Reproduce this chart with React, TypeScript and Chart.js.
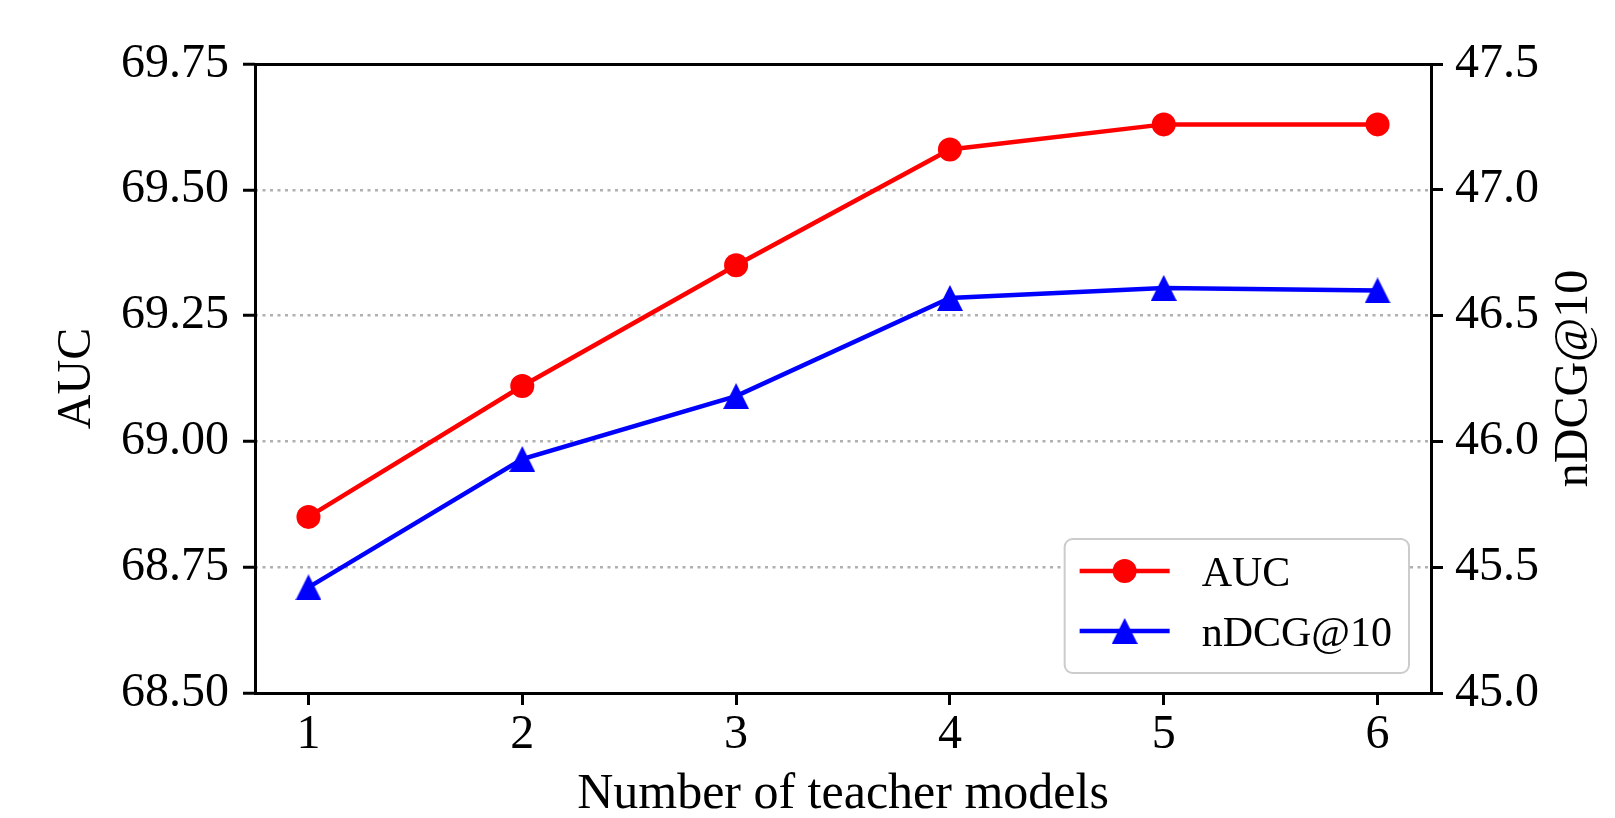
import React, { useEffect, useRef } from 'react';
import { Chart, registerables } from 'chart.js';

Chart.register(...registerables);

const teacherCounts = [1, 2, 3, 4, 5, 6];
const aucValues = [68.85, 69.11, 69.35, 69.58, 69.63, 69.63];
const ndcgValues = [45.42, 45.93, 46.18, 46.57, 46.61, 46.6];
const xTicks = [1, 2, 3, 4, 5, 6];
const aucTicks = [68.5, 68.75, 69.0, 69.25, 69.5, 69.75];
const ndcgTicks = [45.0, 45.5, 46.0, 46.5, 47.0, 47.5];
const seriesNames = ['AUC', 'nDCG@10'];
const xTitle = 'Number of teacher models';
const leftTitle = 'AUC';
const rightTitle = 'nDCG@10';

const FONT = "'Liberation Serif', 'Times New Roman', serif";

export default function App() {
  const ref = useRef<HTMLCanvasElement>(null);

  useEffect(() => {
    const canvas = ref.current;
    if (!canvas) return;

    const tri = document.createElement('canvas');
    tri.width = 26;
    tri.height = 26;
    const tctx = tri.getContext('2d')!;
    tctx.fillStyle = '#0000ff';
    tctx.beginPath();
    tctx.moveTo(13, 0);
    tctx.lineTo(26, 26);
    tctx.lineTo(0, 26);
    tctx.closePath();
    tctx.fill();

    const framePlugin = {
      id: 'frame',
      afterDraw(chart: any) {
        const { ctx, chartArea: a } = chart;
        ctx.save();
        ctx.strokeStyle = '#000';
        ctx.lineWidth = 3;
        ctx.strokeRect(a.left + 0.5, a.top + 0.5, a.right - a.left, a.bottom - a.top);
        ctx.restore();
      },
    };

    const rightTitlePlugin = {
      id: 'rightTitle',
      afterDraw(chart: any) {
        const { ctx, chartArea: a } = chart;
        ctx.save();
        ctx.fillStyle = '#000';
        ctx.font = `48px ${FONT}`;
        ctx.textAlign = 'center';
        ctx.textBaseline = 'middle';
        ctx.translate(a.right + 143, (a.top + a.bottom) / 2);
        ctx.rotate(-Math.PI / 2);
        ctx.fillText(rightTitle, 0, 0);
        ctx.restore();
      },
    };

    const legendPlugin = {
      id: 'mplLegend',
      afterDraw(chart: any) {
        const { ctx, chartArea: a } = chart;
        ctx.save();
        ctx.font = `42px ${FONT}`;
        const textW = Math.max(...seriesNames.map((n) => ctx.measureText(n).width));
        const w = 15 + 90 + 32 + textW + 17;
        const h = 134;
        const right = a.right - 22;
        const bottom = a.bottom - 20;
        const x = right - w;
        const y = bottom - h;
        const r = 8;
        ctx.beginPath();
        ctx.moveTo(x + r, y);
        ctx.lineTo(x + w - r, y);
        ctx.arcTo(x + w, y, x + w, y + r, r);
        ctx.lineTo(x + w, y + h - r);
        ctx.arcTo(x + w, y + h, x + w - r, y + h, r);
        ctx.lineTo(x + r, y + h);
        ctx.arcTo(x, y + h, x, y + h - r, r);
        ctx.lineTo(x, y + r);
        ctx.arcTo(x, y, x + r, y, r);
        ctx.closePath();
        ctx.fillStyle = '#ffffff';
        ctx.fill();
        ctx.strokeStyle = '#cccccc';
        ctx.lineWidth = 2;
        ctx.stroke();

        chart.data.datasets.forEach((ds: any, i: number) => {
          const cy = y + 32 + i * 60;
          ctx.strokeStyle = ds.borderColor;
          ctx.lineWidth = ds.borderWidth;
          ctx.beginPath();
          ctx.moveTo(x + 15, cy);
          ctx.lineTo(x + 105, cy);
          ctx.stroke();
          const mx = x + 60;
          if (ds.pointStyle && typeof ds.pointStyle === 'object') {
            const img = ds.pointStyle as HTMLCanvasElement;
            ctx.drawImage(img, mx - img.width / 2, cy - img.height / 2);
          } else {
            ctx.fillStyle = ds.pointBackgroundColor;
            ctx.beginPath();
            ctx.arc(mx, cy, ds.pointRadius, 0, Math.PI * 2);
            ctx.fill();
          }
          ctx.fillStyle = '#000';
          ctx.textAlign = 'left';
          ctx.textBaseline = 'alphabetic';
          ctx.fillText(ds.label, x + 137, cy + 14.5);
        });
        ctx.restore();
      },
    };

    Chart.defaults.font.family = FONT;
    Chart.defaults.color = '#000';

    const chart = new Chart(canvas, {
      type: 'line',
      data: {
        datasets: [
          {
            label: seriesNames[0],
            data: teacherCounts.map((x, i) => ({ x, y: aucValues[i] })),
            yAxisID: 'y',
            borderColor: '#ff0000',
            backgroundColor: '#ff0000',
            borderWidth: 4.5,
            pointStyle: 'circle',
            pointRadius: 12,
            pointBorderWidth: 0,
            pointBackgroundColor: '#ff0000',
            tension: 0,
          },
          {
            label: seriesNames[1],
            data: teacherCounts.map((x, i) => ({ x, y: ndcgValues[i] })),
            yAxisID: 'y1',
            borderColor: '#0000ff',
            backgroundColor: '#0000ff',
            borderWidth: 4.5,
            pointStyle: tri as any,
            pointRadius: 13,
            pointBorderWidth: 0,
            pointBackgroundColor: '#0000ff',
            tension: 0,
          },
        ],
      },
      options: {
        responsive: false,
        animation: false,
        events: [],
        layout: { padding: { top: 64, left: 0, right: 0, bottom: 0 } },
        plugins: {
          legend: { display: false },
          tooltip: { enabled: false },
          title: { display: false },
        },
        scales: {
          x: {
            type: 'linear',
            position: 'bottom',
            bounds: 'data',
            min: 0.75,
            max: 6.25,
            afterBuildTicks: (s: any) => {
              s.ticks = xTicks.map((v) => ({ value: v }));
            },
            afterFit: (s: any) => {
              s.height = 125;
            },
            ticks: {
              color: '#000',
              font: { size: 48 },
              padding: 2,
              maxRotation: 0,
              autoSkip: false,
              callback: (v: any) => String(v),
            },
            grid: {
              drawOnChartArea: false,
              drawTicks: true,
              tickLength: 12,
              tickWidth: 3,
              tickColor: '#000',
            },
            border: { display: false },
            title: {
              display: true,
              text: xTitle,
              color: '#000',
              font: { size: 50, lineHeight: 1 },
              padding: { top: 0, bottom: -2 },
            },
          },
          y: {
            type: 'linear',
            position: 'left',
            bounds: 'data',
            min: 68.5,
            max: 69.75,
            afterBuildTicks: (s: any) => {
              s.ticks = aucTicks.map((v) => ({ value: v }));
            },
            afterFit: (s: any) => {
              s.width = 255;
            },
            ticks: {
              color: '#000',
              font: { size: 48 },
              padding: 14,
              autoSkip: false,
              callback: (v: any) => Number(v).toFixed(2),
            },
            grid: {
              drawOnChartArea: true,
              color: '#b0b0b0',
              lineWidth: 2.5,
              tickLength: 12,
              tickWidth: 3,
              tickColor: '#000',
              tickBorderDash: [],
            },
            border: { display: false, dash: [3, 4.5] },
            title: {
              display: true,
              text: leftTitle,
              color: '#000',
              font: { size: 48 },
              padding: { top: 49, bottom: 0 },
            },
          },
          y1: {
            type: 'linear',
            position: 'right',
            bounds: 'data',
            min: 45,
            max: 47.5,
            afterBuildTicks: (s: any) => {
              s.ticks = ndcgTicks.map((v) => ({ value: v }));
            },
            afterFit: (s: any) => {
              s.width = 184;
            },
            ticks: {
              color: '#000',
              font: { size: 48 },
              padding: 12,
              autoSkip: false,
              callback: (v: any) => Number(v).toFixed(1),
            },
            grid: {
              drawOnChartArea: false,
              tickLength: 12,
              tickWidth: 3,
              tickColor: '#000',
            },
            border: { display: false },
            title: { display: false },
          },
        },
      },
      plugins: [framePlugin, rightTitlePlugin, legendPlugin],
    } as any);

    return () => {
      chart.destroy();
    };
  }, []);

  return (
    <canvas
      ref={ref}
      width={1615}
      height={818}
      style={{ position: 'fixed', left: 0, top: 0, display: 'block', width: '1615px', height: '818px' }}
    />
  );
}
